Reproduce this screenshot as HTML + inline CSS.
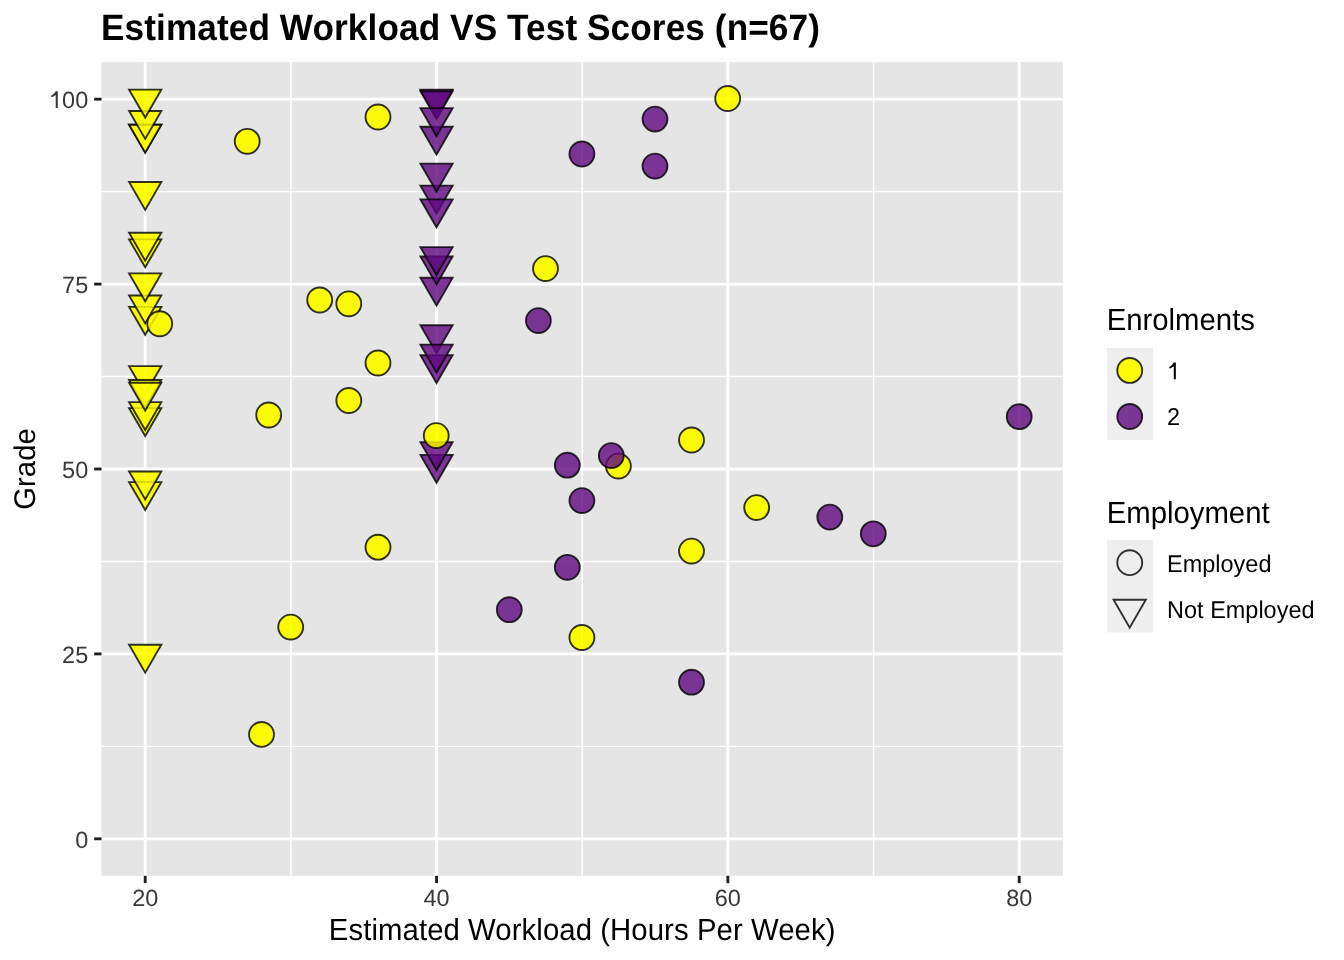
<!DOCTYPE html>
<html><head><meta charset="utf-8"><title>Estimated Workload VS Test Scores</title>
<style>
html,body{margin:0;padding:0;background:#fff;}
body{width:1344px;height:960px;overflow:hidden;font-family:"Liberation Sans",sans-serif;}
svg{display:block;} text{text-rendering:geometricPrecision;}
</style></head><body>
<svg width="1344" height="960" viewBox="0 0 1344 960">
<defs><filter id="cm" filterUnits="userSpaceOnUse" x="0" y="0" width="1344" height="960" color-interpolation-filters="sRGB">
<feColorMatrix type="matrix" values="1 0 0 0 0  0 1 0 0 0  -0.1 -0.1 1.2 0 0  0 0 0 1 0"/>
</filter></defs>
<g filter="url(#cm)">
<rect x="0" y="0" width="1344" height="960" fill="#FFFFFF"/>
<rect x="101.5" y="62.2" width="961.40" height="813.60" fill="#E5E5E5"/>
<line x1="101.5" x2="1062.9" y1="746.36" y2="746.36" stroke="#FFFFFF" stroke-width="1.42"/>
<line x1="101.5" x2="1062.9" y1="561.45" y2="561.45" stroke="#FFFFFF" stroke-width="1.42"/>
<line x1="101.5" x2="1062.9" y1="376.55" y2="376.55" stroke="#FFFFFF" stroke-width="1.42"/>
<line x1="101.5" x2="1062.9" y1="191.64" y2="191.64" stroke="#FFFFFF" stroke-width="1.42"/>
<line y1="62.2" y2="875.8" x1="290.87" x2="290.87" stroke="#FFFFFF" stroke-width="1.42"/>
<line y1="62.2" y2="875.8" x1="582.20" x2="582.20" stroke="#FFFFFF" stroke-width="1.42"/>
<line y1="62.2" y2="875.8" x1="873.53" x2="873.53" stroke="#FFFFFF" stroke-width="1.42"/>
<line x1="101.5" x2="1062.9" y1="838.82" y2="838.82" stroke="#FFFFFF" stroke-width="2.85"/>
<line x1="101.5" x2="1062.9" y1="653.91" y2="653.91" stroke="#FFFFFF" stroke-width="2.85"/>
<line x1="101.5" x2="1062.9" y1="469.00" y2="469.00" stroke="#FFFFFF" stroke-width="2.85"/>
<line x1="101.5" x2="1062.9" y1="284.09" y2="284.09" stroke="#FFFFFF" stroke-width="2.85"/>
<line x1="101.5" x2="1062.9" y1="99.18" y2="99.18" stroke="#FFFFFF" stroke-width="2.85"/>
<line y1="62.2" y2="875.8" x1="145.20" x2="145.20" stroke="#FFFFFF" stroke-width="2.85"/>
<line y1="62.2" y2="875.8" x1="436.53" x2="436.53" stroke="#FFFFFF" stroke-width="2.85"/>
<line y1="62.2" y2="875.8" x1="727.87" x2="727.87" stroke="#FFFFFF" stroke-width="2.85"/>
<line y1="62.2" y2="875.8" x1="1019.20" x2="1019.20" stroke="#FFFFFF" stroke-width="2.85"/>
<polygon points="129.09,124.70 161.31,124.70 145.20,152.60" fill="#FFFF00" fill-opacity="0.8" stroke="#000000" stroke-opacity="0.8" stroke-width="1.89" stroke-linejoin="miter"/>
<polygon points="129.09,124.70 161.31,124.70 145.20,152.60" fill="#FFFF00" fill-opacity="0.8" stroke="#000000" stroke-opacity="0.8" stroke-width="1.89" stroke-linejoin="miter"/>
<polygon points="129.09,111.00 161.31,111.00 145.20,138.90" fill="#FFFF00" fill-opacity="0.8" stroke="#000000" stroke-opacity="0.8" stroke-width="1.89" stroke-linejoin="miter"/>
<polygon points="129.09,89.60 161.31,89.60 145.20,117.50" fill="#FFFF00" fill-opacity="0.8" stroke="#000000" stroke-opacity="0.8" stroke-width="1.89" stroke-linejoin="miter"/>
<polygon points="129.09,182.00 161.31,182.00 145.20,209.90" fill="#FFFF00" fill-opacity="0.8" stroke="#000000" stroke-opacity="0.8" stroke-width="1.89" stroke-linejoin="miter"/>
<polygon points="129.09,239.40 161.31,239.40 145.20,267.30" fill="#FFFF00" fill-opacity="0.8" stroke="#000000" stroke-opacity="0.8" stroke-width="1.89" stroke-linejoin="miter"/>
<polygon points="129.09,232.80 161.31,232.80 145.20,260.70" fill="#FFFF00" fill-opacity="0.8" stroke="#000000" stroke-opacity="0.8" stroke-width="1.89" stroke-linejoin="miter"/>
<polygon points="129.09,306.90 161.31,306.90 145.20,334.80" fill="#FFFF00" fill-opacity="0.8" stroke="#000000" stroke-opacity="0.8" stroke-width="1.89" stroke-linejoin="miter"/>
<polygon points="129.09,295.50 161.31,295.50 145.20,323.40" fill="#FFFF00" fill-opacity="0.8" stroke="#000000" stroke-opacity="0.8" stroke-width="1.89" stroke-linejoin="miter"/>
<polygon points="129.09,273.40 161.31,273.40 145.20,301.30" fill="#FFFF00" fill-opacity="0.8" stroke="#000000" stroke-opacity="0.8" stroke-width="1.89" stroke-linejoin="miter"/>
<polygon points="129.09,366.10 161.31,366.10 145.20,394.00" fill="#FFFF00" fill-opacity="0.8" stroke="#000000" stroke-opacity="0.8" stroke-width="1.89" stroke-linejoin="miter"/>
<polygon points="129.09,408.10 161.31,408.10 145.20,436.00" fill="#FFFF00" fill-opacity="0.8" stroke="#000000" stroke-opacity="0.8" stroke-width="1.89" stroke-linejoin="miter"/>
<polygon points="129.09,402.10 161.31,402.10 145.20,430.00" fill="#FFFF00" fill-opacity="0.8" stroke="#000000" stroke-opacity="0.8" stroke-width="1.89" stroke-linejoin="miter"/>
<polygon points="129.09,380.00 161.31,380.00 145.20,407.90" fill="#FFFF00" fill-opacity="0.8" stroke="#000000" stroke-opacity="0.8" stroke-width="1.89" stroke-linejoin="miter"/>
<polygon points="129.09,382.80 161.31,382.80 145.20,410.70" fill="#FFFF00" fill-opacity="0.8" stroke="#000000" stroke-opacity="0.8" stroke-width="1.89" stroke-linejoin="miter"/>
<polygon points="129.09,482.10 161.31,482.10 145.20,510.00" fill="#FFFF00" fill-opacity="0.8" stroke="#000000" stroke-opacity="0.8" stroke-width="1.89" stroke-linejoin="miter"/>
<polygon points="129.09,471.50 161.31,471.50 145.20,499.40" fill="#FFFF00" fill-opacity="0.8" stroke="#000000" stroke-opacity="0.8" stroke-width="1.89" stroke-linejoin="miter"/>
<polygon points="129.09,644.75 161.31,644.75 145.20,672.65" fill="#FFFF00" fill-opacity="0.8" stroke="#000000" stroke-opacity="0.8" stroke-width="1.89" stroke-linejoin="miter"/>
<polygon points="420.43,126.80 452.64,126.80 436.53,154.70" fill="#5E0873" fill-opacity="0.8" stroke="#000000" stroke-opacity="0.8" stroke-width="1.89" stroke-linejoin="miter"/>
<polygon points="420.43,89.60 452.64,89.60 436.53,117.50" fill="#5E0873" fill-opacity="0.8" stroke="#000000" stroke-opacity="0.8" stroke-width="1.89" stroke-linejoin="miter"/>
<polygon points="420.43,91.30 452.64,91.30 436.53,119.20" fill="#5E0873" fill-opacity="0.8" stroke="#000000" stroke-opacity="0.8" stroke-width="1.89" stroke-linejoin="miter"/>
<polygon points="420.43,108.10 452.64,108.10 436.53,136.00" fill="#5E0873" fill-opacity="0.8" stroke="#000000" stroke-opacity="0.8" stroke-width="1.89" stroke-linejoin="miter"/>
<polygon points="420.43,185.60 452.64,185.60 436.53,213.50" fill="#5E0873" fill-opacity="0.8" stroke="#000000" stroke-opacity="0.8" stroke-width="1.89" stroke-linejoin="miter"/>
<polygon points="420.43,199.40 452.64,199.40 436.53,227.30" fill="#5E0873" fill-opacity="0.8" stroke="#000000" stroke-opacity="0.8" stroke-width="1.89" stroke-linejoin="miter"/>
<polygon points="420.43,163.60 452.64,163.60 436.53,191.50" fill="#5E0873" fill-opacity="0.8" stroke="#000000" stroke-opacity="0.8" stroke-width="1.89" stroke-linejoin="miter"/>
<polygon points="420.43,277.80 452.64,277.80 436.53,305.70" fill="#5E0873" fill-opacity="0.8" stroke="#000000" stroke-opacity="0.8" stroke-width="1.89" stroke-linejoin="miter"/>
<polygon points="420.43,256.50 452.64,256.50 436.53,284.40" fill="#5E0873" fill-opacity="0.8" stroke="#000000" stroke-opacity="0.8" stroke-width="1.89" stroke-linejoin="miter"/>
<polygon points="420.43,247.10 452.64,247.10 436.53,275.00" fill="#5E0873" fill-opacity="0.8" stroke="#000000" stroke-opacity="0.8" stroke-width="1.89" stroke-linejoin="miter"/>
<polygon points="420.43,355.30 452.64,355.30 436.53,383.20" fill="#5E0873" fill-opacity="0.8" stroke="#000000" stroke-opacity="0.8" stroke-width="1.89" stroke-linejoin="miter"/>
<polygon points="420.43,325.30 452.64,325.30 436.53,353.20" fill="#5E0873" fill-opacity="0.8" stroke="#000000" stroke-opacity="0.8" stroke-width="1.89" stroke-linejoin="miter"/>
<polygon points="420.43,344.60 452.64,344.60 436.53,372.50" fill="#5E0873" fill-opacity="0.8" stroke="#000000" stroke-opacity="0.8" stroke-width="1.89" stroke-linejoin="miter"/>
<polygon points="420.43,454.90 452.64,454.90 436.53,482.80" fill="#5E0873" fill-opacity="0.8" stroke="#000000" stroke-opacity="0.8" stroke-width="1.89" stroke-linejoin="miter"/>
<polygon points="420.43,442.10 452.64,442.10 436.53,470.00" fill="#5E0873" fill-opacity="0.8" stroke="#000000" stroke-opacity="0.8" stroke-width="1.89" stroke-linejoin="miter"/>
<circle cx="247.20" cy="141.30" r="12.45" fill="#FFFF00" fill-opacity="0.8" stroke="#000000" stroke-opacity="0.8" stroke-width="1.89"/>
<circle cx="378.00" cy="117.00" r="12.45" fill="#FFFF00" fill-opacity="0.8" stroke="#000000" stroke-opacity="0.8" stroke-width="1.89"/>
<circle cx="727.70" cy="98.50" r="12.45" fill="#FFFF00" fill-opacity="0.8" stroke="#000000" stroke-opacity="0.8" stroke-width="1.89"/>
<circle cx="545.50" cy="268.60" r="12.45" fill="#FFFF00" fill-opacity="0.8" stroke="#000000" stroke-opacity="0.8" stroke-width="1.89"/>
<circle cx="691.50" cy="440.00" r="12.45" fill="#FFFF00" fill-opacity="0.8" stroke="#000000" stroke-opacity="0.8" stroke-width="1.89"/>
<circle cx="618.40" cy="466.10" r="12.45" fill="#FFFF00" fill-opacity="0.8" stroke="#000000" stroke-opacity="0.8" stroke-width="1.89"/>
<circle cx="691.50" cy="551.10" r="12.45" fill="#FFFF00" fill-opacity="0.8" stroke="#000000" stroke-opacity="0.8" stroke-width="1.89"/>
<circle cx="581.90" cy="637.50" r="12.45" fill="#FFFF00" fill-opacity="0.8" stroke="#000000" stroke-opacity="0.8" stroke-width="1.89"/>
<circle cx="756.70" cy="507.60" r="12.45" fill="#FFFF00" fill-opacity="0.8" stroke="#000000" stroke-opacity="0.8" stroke-width="1.89"/>
<circle cx="319.70" cy="300.00" r="12.45" fill="#FFFF00" fill-opacity="0.8" stroke="#000000" stroke-opacity="0.8" stroke-width="1.89"/>
<circle cx="348.80" cy="303.80" r="12.45" fill="#FFFF00" fill-opacity="0.8" stroke="#000000" stroke-opacity="0.8" stroke-width="1.89"/>
<circle cx="378.00" cy="363.00" r="12.45" fill="#FFFF00" fill-opacity="0.8" stroke="#000000" stroke-opacity="0.8" stroke-width="1.89"/>
<circle cx="348.80" cy="400.50" r="12.45" fill="#FFFF00" fill-opacity="0.8" stroke="#000000" stroke-opacity="0.8" stroke-width="1.89"/>
<circle cx="268.70" cy="415.00" r="12.45" fill="#FFFF00" fill-opacity="0.8" stroke="#000000" stroke-opacity="0.8" stroke-width="1.89"/>
<circle cx="378.00" cy="547.20" r="12.45" fill="#FFFF00" fill-opacity="0.8" stroke="#000000" stroke-opacity="0.8" stroke-width="1.89"/>
<circle cx="290.70" cy="627.10" r="12.45" fill="#FFFF00" fill-opacity="0.8" stroke="#000000" stroke-opacity="0.8" stroke-width="1.89"/>
<circle cx="261.50" cy="734.40" r="12.45" fill="#FFFF00" fill-opacity="0.8" stroke="#000000" stroke-opacity="0.8" stroke-width="1.89"/>
<circle cx="436.25" cy="435.60" r="12.45" fill="#FFFF00" fill-opacity="0.8" stroke="#000000" stroke-opacity="0.8" stroke-width="1.89"/>
<circle cx="159.75" cy="323.75" r="12.45" fill="#FFFF00" fill-opacity="0.8" stroke="#000000" stroke-opacity="0.8" stroke-width="1.89"/>
<circle cx="655.00" cy="119.10" r="12.45" fill="#5E0873" fill-opacity="0.8" stroke="#000000" stroke-opacity="0.8" stroke-width="1.89"/>
<circle cx="581.90" cy="154.00" r="12.45" fill="#5E0873" fill-opacity="0.8" stroke="#000000" stroke-opacity="0.8" stroke-width="1.89"/>
<circle cx="655.00" cy="166.10" r="12.45" fill="#5E0873" fill-opacity="0.8" stroke="#000000" stroke-opacity="0.8" stroke-width="1.89"/>
<circle cx="538.40" cy="320.60" r="12.45" fill="#5E0873" fill-opacity="0.8" stroke="#000000" stroke-opacity="0.8" stroke-width="1.89"/>
<circle cx="567.30" cy="465.20" r="12.45" fill="#5E0873" fill-opacity="0.8" stroke="#000000" stroke-opacity="0.8" stroke-width="1.89"/>
<circle cx="611.30" cy="455.60" r="12.45" fill="#5E0873" fill-opacity="0.8" stroke="#000000" stroke-opacity="0.8" stroke-width="1.89"/>
<circle cx="581.90" cy="500.60" r="12.45" fill="#5E0873" fill-opacity="0.8" stroke="#000000" stroke-opacity="0.8" stroke-width="1.89"/>
<circle cx="567.30" cy="567.30" r="12.45" fill="#5E0873" fill-opacity="0.8" stroke="#000000" stroke-opacity="0.8" stroke-width="1.89"/>
<circle cx="509.30" cy="609.70" r="12.45" fill="#5E0873" fill-opacity="0.8" stroke="#000000" stroke-opacity="0.8" stroke-width="1.89"/>
<circle cx="691.50" cy="682.20" r="12.45" fill="#5E0873" fill-opacity="0.8" stroke="#000000" stroke-opacity="0.8" stroke-width="1.89"/>
<circle cx="1019.20" cy="416.70" r="12.45" fill="#5E0873" fill-opacity="0.8" stroke="#000000" stroke-opacity="0.8" stroke-width="1.89"/>
<circle cx="829.80" cy="517.10" r="12.45" fill="#5E0873" fill-opacity="0.8" stroke="#000000" stroke-opacity="0.8" stroke-width="1.89"/>
<circle cx="873.30" cy="533.80" r="12.45" fill="#5E0873" fill-opacity="0.8" stroke="#000000" stroke-opacity="0.8" stroke-width="1.89"/>
<line x1="94.17" x2="101.5" y1="838.82" y2="838.82" stroke="#1E1E1E" stroke-width="2.85"/>
<line x1="94.17" x2="101.5" y1="653.91" y2="653.91" stroke="#1E1E1E" stroke-width="2.85"/>
<line x1="94.17" x2="101.5" y1="469.00" y2="469.00" stroke="#1E1E1E" stroke-width="2.85"/>
<line x1="94.17" x2="101.5" y1="284.09" y2="284.09" stroke="#1E1E1E" stroke-width="2.85"/>
<line x1="94.17" x2="101.5" y1="99.18" y2="99.18" stroke="#1E1E1E" stroke-width="2.85"/>
<line y1="875.8" y2="883.13" x1="145.20" x2="145.20" stroke="#1E1E1E" stroke-width="2.85"/>
<line y1="875.8" y2="883.13" x1="436.53" x2="436.53" stroke="#1E1E1E" stroke-width="2.85"/>
<line y1="875.8" y2="883.13" x1="727.87" x2="727.87" stroke="#1E1E1E" stroke-width="2.85"/>
<line y1="875.8" y2="883.13" x1="1019.20" x2="1019.20" stroke="#1E1E1E" stroke-width="2.85"/>
<text x="88.2" y="847.72" font-family="Liberation Sans, sans-serif" font-size="23.47" fill="#383838" text-anchor="end">0</text>
<text x="88.2" y="662.81" font-family="Liberation Sans, sans-serif" font-size="23.47" fill="#383838" text-anchor="end">25</text>
<text x="88.2" y="477.90" font-family="Liberation Sans, sans-serif" font-size="23.47" fill="#383838" text-anchor="end">50</text>
<text x="88.2" y="292.99" font-family="Liberation Sans, sans-serif" font-size="23.47" fill="#383838" text-anchor="end">75</text>
<text x="88.2" y="108.08" font-family="Liberation Sans, sans-serif" font-size="23.47" fill="#383838" text-anchor="end">00</text>
<path transform="translate(49.04,108.08) scale(0.011460,-0.011460)" d="M763,0 L583,0 L583,1140 C520,1085 450,1040 380,1005 C310,970 250,955 190,940 L190,1100 C270,1130 345,1180 410,1240 C475,1300 530,1370 556,1420 L580,1466 L763,1466 Z" fill="#383838"/>
<text x="145.20" y="905.9" font-family="Liberation Sans, sans-serif" font-size="23.47" fill="#383838" text-anchor="middle">20</text>
<text x="436.53" y="905.9" font-family="Liberation Sans, sans-serif" font-size="23.47" fill="#383838" text-anchor="middle">40</text>
<text x="727.87" y="905.9" font-family="Liberation Sans, sans-serif" font-size="23.47" fill="#383838" text-anchor="middle">60</text>
<text x="1019.20" y="905.9" font-family="Liberation Sans, sans-serif" font-size="23.47" fill="#383838" text-anchor="middle">80</text>
<text transform="translate(582.15,939.8) scale(1,1.04)" x="0" y="0" font-family="Liberation Sans, sans-serif" font-size="29.33" fill="#000000" text-anchor="middle" textLength="506.6" lengthAdjust="spacing">Estimated Workload (Hours Per Week)</text>
<text transform="translate(35.3,469.00) rotate(-90) scale(1,1.02)" x="0" y="0" font-family="Liberation Sans, sans-serif" font-size="29.33" fill="#000000" text-anchor="middle">Grade</text>
<text transform="translate(101.0,39.8) scale(1,1.043)" x="0" y="0" font-family="Liberation Sans, sans-serif" font-size="35.2" font-weight="bold" fill="#000000" textLength="718.9" lengthAdjust="spacing">Estimated Workload VS Test Scores (n=67)</text>
<text transform="translate(1106.65,330) scale(1,1.04)" x="0" y="0" font-family="Liberation Sans, sans-serif" font-size="29.33" fill="#000000">Enrolments</text>
<rect x="1107.0" y="348.0" width="46.08" height="92.16" fill="#EEEEEE"/>
<circle cx="1129.74" cy="370.44" r="12.45" fill="#FFFF00" fill-opacity="0.8" stroke="#000000" stroke-opacity="0.8" stroke-width="1.89"/>
<circle cx="1129.74" cy="416.52" r="12.45" fill="#5E0873" fill-opacity="0.8" stroke="#000000" stroke-opacity="0.8" stroke-width="1.89"/>
<path transform="translate(1167.10,379.34) scale(0.011460,-0.011460)" d="M763,0 L583,0 L583,1140 C520,1085 450,1040 380,1005 C310,970 250,955 190,940 L190,1100 C270,1130 345,1180 410,1240 C475,1300 530,1370 556,1420 L580,1466 L763,1466 Z" fill="#000000"/>
<text transform="translate(1167.1,425.42) scale(1,1.035)" x="0" y="0" font-family="Liberation Sans, sans-serif" font-size="23.47" fill="#000000">2</text>
<text transform="translate(1106.65,522.8) scale(1,1.04)" x="0" y="0" font-family="Liberation Sans, sans-serif" font-size="29.33" fill="#000000">Employment</text>
<rect x="1107.0" y="540.2" width="46.08" height="92.16" fill="#EEEEEE"/>
<circle cx="1129.74" cy="562.64" r="12.45" fill="none" fill-opacity="0" stroke="#000000" stroke-opacity="0.8" stroke-width="1.89"/>
<polygon points="1113.58,599.72 1145.80,599.72 1129.69,627.62" fill="none" fill-opacity="0" stroke="#000000" stroke-opacity="0.8" stroke-width="1.89" stroke-linejoin="miter"/>
<text transform="translate(1167.1,571.54) scale(1,1.035)" x="0" y="0" font-family="Liberation Sans, sans-serif" font-size="23.47" fill="#000000">Employed</text>
<text transform="translate(1167.1,617.62) scale(1,1.035)" x="0" y="0" font-family="Liberation Sans, sans-serif" font-size="23.47" fill="#000000">Not Employed</text>
</g>
</svg>
</body></html>
